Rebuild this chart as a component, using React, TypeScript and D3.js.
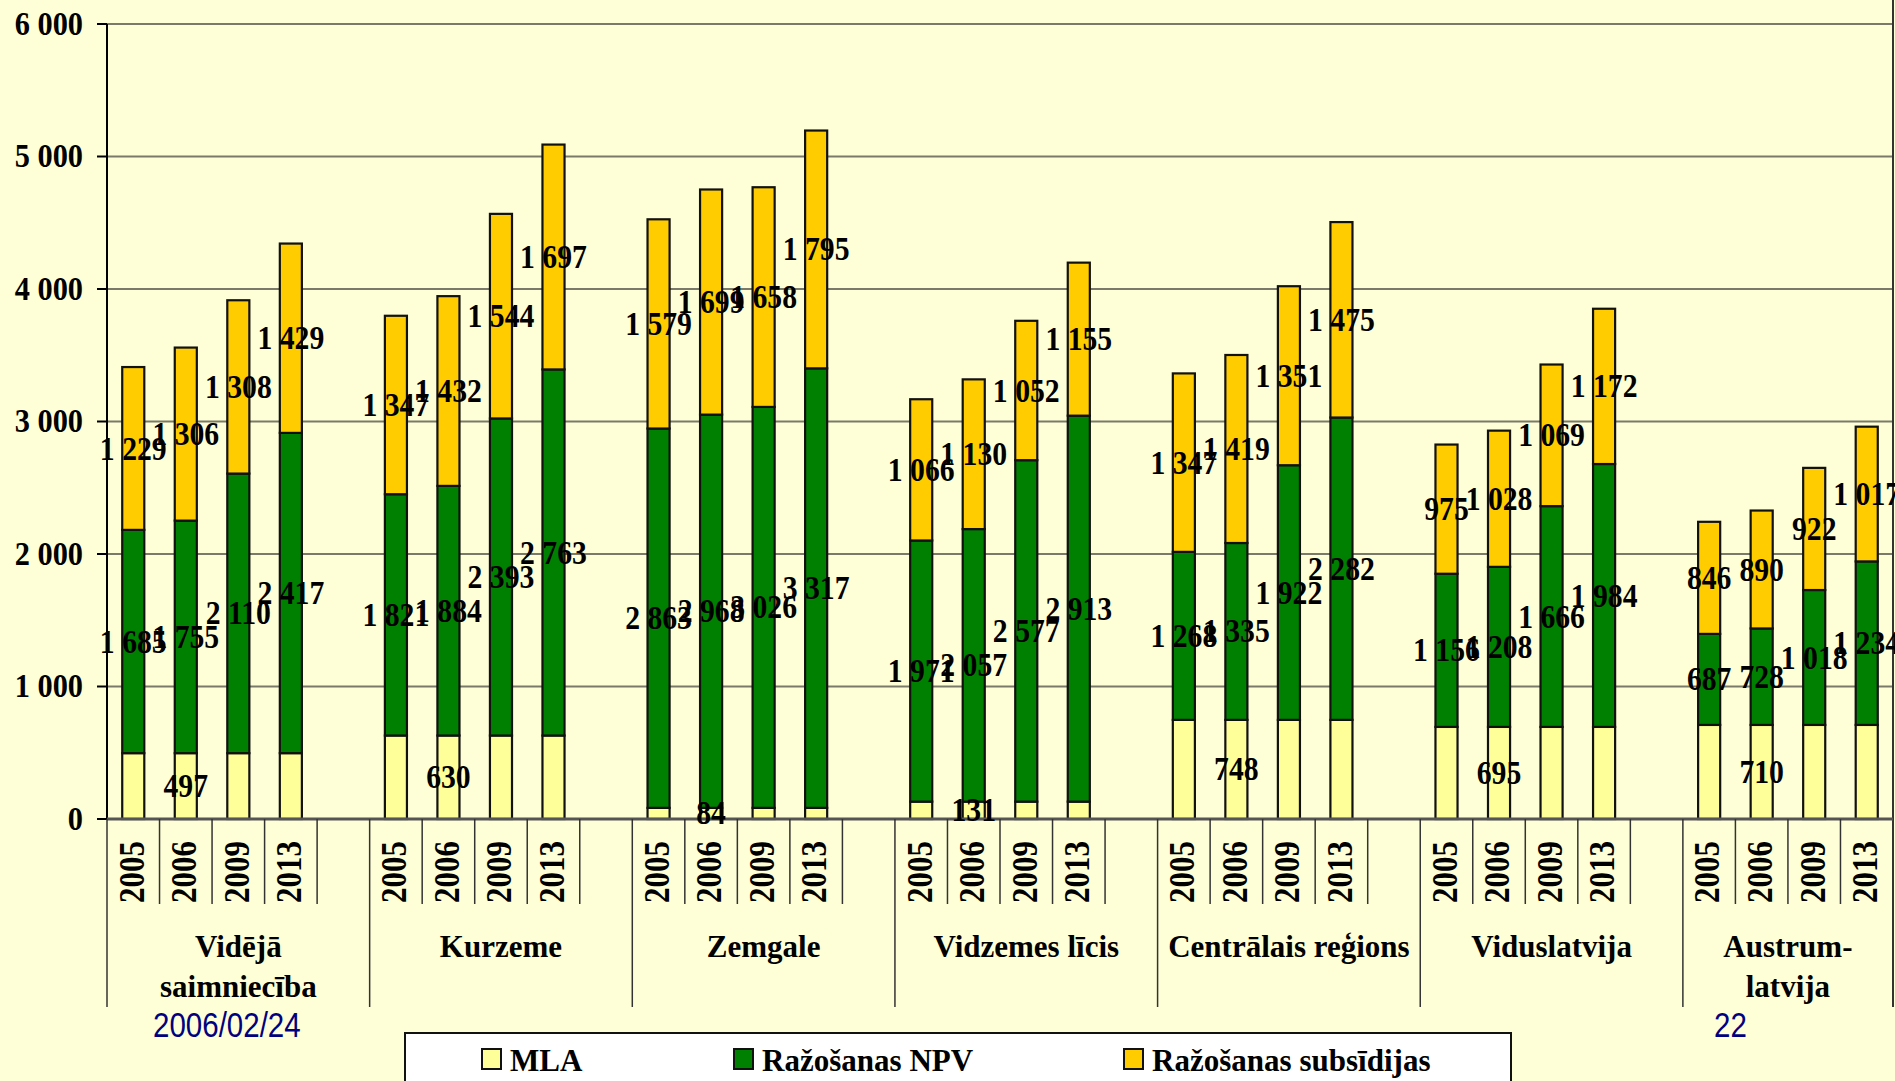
import React from "react";
import * as d3 from "d3";

// region groups on the x axis (two-line labels where the original wraps)
const regionLines = [
  ["Vidējā", "saimniecība"],
  ["Kurzeme"],
  ["Zemgale"],
  ["Vidzemes līcis"],
  ["Centrālais reģions"],
  ["Viduslatvija"],
  ["Austrum-", "latvija"],
];
const years = ["2005", "2006", "2009", "2013"];
const seriesNames = ["MLA", "Ražošanas NPV", "Ražošanas subsīdijas"];

// MLA is the same for every year inside a region
const mla = [497, 630, 84, 131, 748, 695, 710];
const npv = [
  [1685, 1755, 2110, 2417],
  [1821, 1884, 2393, 2763],
  [2863, 2968, 3026, 3317],
  [1971, 2057, 2577, 2913],
  [1268, 1335, 1922, 2282],
  [1156, 1208, 1666, 1984],
  [687, 728, 1018, 1234],
];
const subsidies = [
  [1229, 1306, 1308, 1429],
  [1347, 1432, 1544, 1697],
  [1579, 1699, 1658, 1795],
  [1066, 1130, 1052, 1155],
  [1347, 1419, 1351, 1475],
  [975, 1028, 1069, 1172],
  [846, 890, 922, 1017],
];
const yTicks = [0, 1000, 2000, 3000, 4000, 5000, 6000];
const mlaLabelYear = "2006";
const footerDate = "2006/02/24";
const pageNo = "22";

const W = 1895;
const H = 1081;
const BG = "#FFFFD7";
const colors = ["#FFFF99", "#008000", "#FFCC00"];
const serif = "'Liberation Serif', 'Times New Roman', serif";

const fmt = d3.formatLocale({ decimal: ",", thousands: " ", grouping: [3], currency: ["", ""] }).format(",d");

type Slot = { key: string; g: number; yi: number; year: string };

// every region gets its four years plus an empty slot, the last region has no trailing gap
const slots: Slot[] = [];
regionLines.forEach((_, g) => {
  years.forEach((yr, yi) => slots.push({ key: `${g}-${yr}`, g, yi, year: yr }));
  if (g < regionLines.length - 1) slots.push({ key: `${g}-gap`, g, yi: -1, year: "" });
});

const App = () => {
  const margin = { left: 107, right: 2, top: 24, bottom: 262 };
  const x = d3
    .scaleBand<string>()
    .domain(slots.map((s) => s.key))
    .range([margin.left, W - margin.right])
    .paddingInner(0.58)
    .paddingOuter(0.29);
  const step = x.step();
  const y = d3.scaleLinear().domain([0, 6000]).range([H - margin.bottom, margin.top]);
  const y0 = y(0);
  const slotLeft = (k: string) => (x(k) as number) - (step - x.bandwidth()) / 2;

  const bars = slots.filter((s) => s.yi >= 0);

  const groupSpans = regionLines.map((_, g) => {
    const mine = slots.filter((s) => s.g === g);
    const a = slotLeft(mine[0].key);
    const b = slotLeft(mine[mine.length - 1].key) + step;
    return { a, b };
  });

  const yearTickLen = 85;
  const groupTickLen = 188;

  return (
    <svg
      width={W}
      height={H}
      style={{ position: "absolute", left: 0, top: 0, display: "block", background: BG }}
    >
      <rect x={0} y={0} width={W} height={H} fill={BG} />

      {/* gridlines */}
      {yTicks.filter((t) => t > 0).map((t) => (
        <line key={t} x1={margin.left} x2={W - margin.right} y1={y(t)} y2={y(t)} stroke="#7a7a6a" strokeWidth={2} />
      ))}

      {/* y axis */}
      <line x1={margin.left} x2={margin.left} y1={margin.top} y2={y0} stroke="#000" strokeWidth={2} />
      <line x1={W - margin.right} x2={W - margin.right} y1={0} y2={y0 + groupTickLen} stroke="#333" strokeWidth={2} />
      {yTicks.map((t) => (
        <g key={t}>
          <line x1={margin.left - 10} x2={margin.left} y1={y(t)} y2={y(t)} stroke="#000" strokeWidth={2} />
          <text
            transform={`translate(83,${y(t)}) scale(0.92,1)`}
            textAnchor="end"
            dominantBaseline="central"
            fontFamily={serif}
            fontWeight="bold"
            fontSize={33}
          >
            {fmt(t)}
          </text>
        </g>
      ))}

      {/* stacked bars */}
      {bars.map((s) => {
        const vals = [mla[s.g], npv[s.g][s.yi], subsidies[s.g][s.yi]];
        let acc = 0;
        return (
          <g key={s.key}>
            {vals.map((v, i) => {
              const top = y(acc + v);
              const bot = y(acc);
              acc += v;
              return (
                <rect
                  key={i}
                  x={x(s.key)}
                  y={top}
                  width={x.bandwidth()}
                  height={bot - top}
                  fill={colors[i]}
                  stroke="#111"
                  strokeWidth={2.2}
                />
              );
            })}
          </g>
        );
      })}

      {/* baseline + category separators */}
      <line x1={margin.left} x2={W - margin.right} y1={y0} y2={y0} stroke="#555" strokeWidth={3} />
      {slots.map((s, i) => {
        const lx = slotLeft(s.key);
        const isGroupStart = i === 0 || slots[i - 1].g !== s.g;
        return (
          <line
            key={s.key}
            x1={lx}
            x2={lx}
            y1={y0}
            y2={y0 + (isGroupStart ? groupTickLen : yearTickLen)}
            stroke="#333"
            strokeWidth={1.5}
          />
        );
      })}

      {/* year labels */}
      {bars.map((s) => {
        const cx = (x(s.key) as number) + x.bandwidth() / 2 - 2;
        return (
          <text
            key={s.key}
            transform={`translate(${cx},${y0 + 22}) rotate(-90) scale(0.86,1)`}
            textAnchor="end"
            dominantBaseline="central"
            fontFamily={serif}
            fontWeight="bold"
            fontSize={36}
          >
            {s.year}
          </text>
        );
      })}

      {/* region labels */}
      {regionLines.map((lines, g) => {
        const cx = (groupSpans[g].a + groupSpans[g].b) / 2;
        return (
          <text key={g} textAnchor="middle" fontFamily={serif} fontWeight="bold" fontSize={31}>
            {lines.map((l, li) => (
              <tspan key={li} x={cx} y={957 + li * 40}>
                {l}
              </tspan>
            ))}
          </text>
        );
      })}

      {/* data labels */}
      {bars.map((s) => {
        const cx = (x(s.key) as number) + x.bandwidth() / 2;
        const m = mla[s.g];
        const n = npv[s.g][s.yi];
        const sb = subsidies[s.g][s.yi];
        const items = [
          { v: n, at: m + n / 2 },
          { v: sb, at: m + n + sb / 2 },
        ];
        if (s.year === mlaLabelYear) items.unshift({ v: m, at: m / 2 });
        return items.map((it, i) => (
          <text
            key={`${s.key}-${i}`}
            transform={`translate(${cx},${y(it.at)}) scale(0.9,1)`}
            textAnchor="middle"
            dominantBaseline="central"
            fontFamily={serif}
            fontWeight="bold"
            fontSize={33}
          >
            {fmt(it.v)}
          </text>
        ));
      })}

      {/* footer texts */}
      <text
        transform="translate(153,1037) scale(0.82,1)"
        fontFamily="'Liberation Sans', Arial, sans-serif"
        fontSize={36}
        fill="#000080"
      >
        {footerDate}
      </text>
      <text
        transform="translate(1714,1037) scale(0.82,1)"
        fontFamily="'Liberation Sans', Arial, sans-serif"
        fontSize={36}
        fill="#000080"
      >
        {pageNo}
      </text>

      {/* legend */}
      <rect x={405} y={1033} width={1106} height={70} fill="#fff" stroke="#111" strokeWidth={2} />
      {seriesNames.map((name, i) => {
        const lx = [482, 734, 1124][i];
        return (
          <g key={name}>
            <rect x={lx} y={1049} width={19} height={20} fill={colors[i]} stroke="#111" strokeWidth={2} />
            <text
              transform={`translate(${lx + 28},1071) scale(0.97,1)`}
              fontFamily={serif}
              fontWeight="bold"
              fontSize={32}
            >
              {name}
            </text>
          </g>
        );
      })}
    </svg>
  );
};

export default App;
